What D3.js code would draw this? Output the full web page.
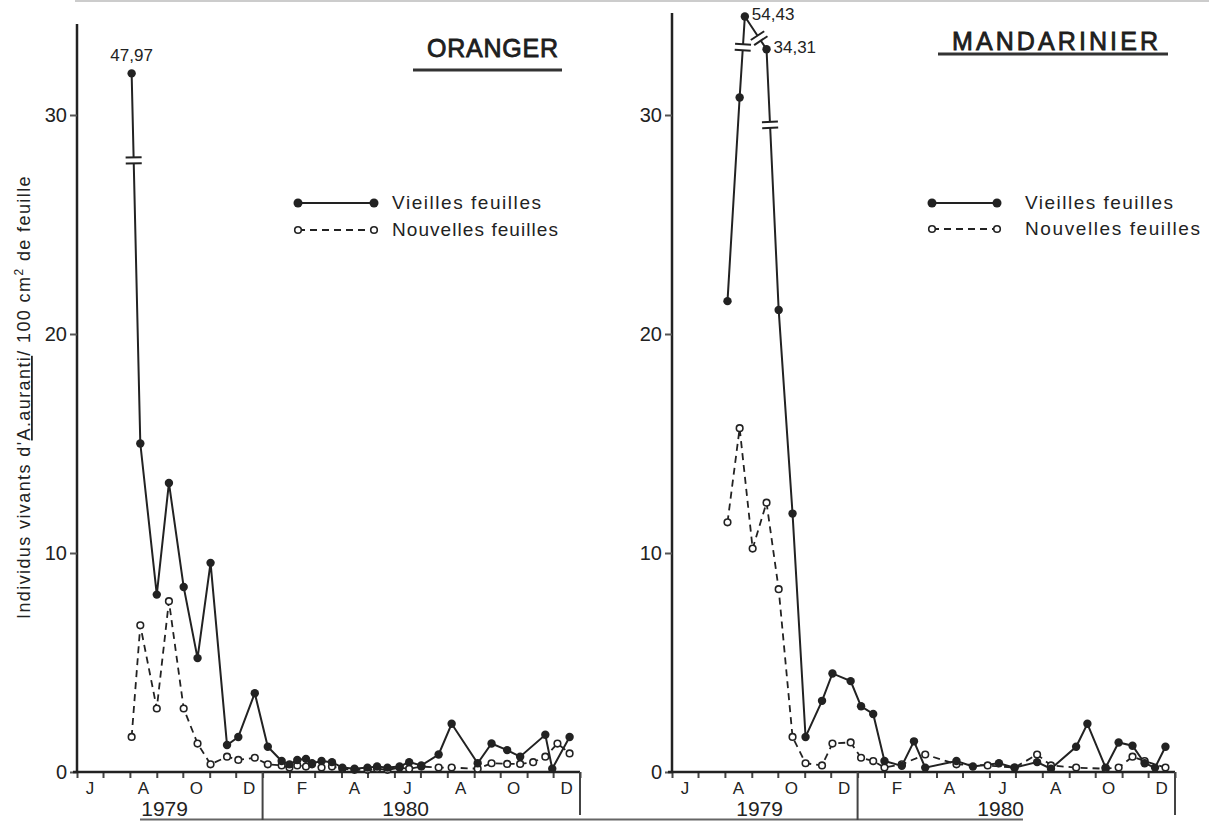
<!DOCTYPE html>
<html>
<head>
<meta charset="utf-8">
<script src="https://cdn.jsdelivr.net/npm/d3@7"></script>
<style>
  body { margin: 0; background: #fff; }
  svg { display: block; }
  text { font-family: "Liberation Sans", Arial, sans-serif; fill: #222; }
</style>
</head>
<body>
<svg id="chart" width="1209" height="821"></svg>
<script>
// month initials (French) and which months get a label
const monthInitials = ["J","F","M","A","M","J","J","A","S","O","N","D"];
const labelMonths = ["1979-06","1979-08","1979-10","1979-12","1980-02","1980-04","1980-06","1980-08","1980-10","1980-12"];
const yTicks = [0, 10, 20, 30];
const years = ["1979", "1980"];
const yearLabelAt = ["1979-09-10", "1980-06-14"];

// ORANGER - sampling dates and counts (null = no sample)
const orDates = ["1979-08-03","1979-08-13","1979-09-01","1979-09-15","1979-10-02","1979-10-18","1979-11-02","1979-11-21","1979-12-04","1979-12-23",
  "1980-01-07","1980-01-23","1980-02-01","1980-02-10","1980-02-20","1980-02-27","1980-03-09","1980-03-21","1980-04-02","1980-04-16",
  "1980-05-01","1980-05-12","1980-05-24","1980-06-07","1980-06-18","1980-07-02","1980-07-22","1980-08-06","1980-08-21","1980-09-05",
  "1980-09-21","1980-10-09","1980-10-24","1980-11-08","1980-11-22","1980-11-30","1980-12-06","1980-12-20"];
const orVieilles = [47.97,15.0,8.1,13.2,8.45,5.2,9.55,1.23,1.6,3.6,
  1.15,0.5,0.35,0.55,0.6,0.4,0.5,0.45,0.2,0.15,
  0.2,0.25,0.2,0.25,0.45,0.3,0.8,2.2,null,0.4,
  1.3,1.0,0.7,null,1.7,0.15,null,1.6];
const orNouvelles = [1.6,6.7,2.9,7.8,2.9,1.3,0.35,0.7,0.55,0.65,
  0.35,0.3,0.2,0.3,0.25,0.35,0.2,0.25,0.15,0.1,
  0.1,0.15,0.1,0.2,0.15,0.25,0.2,0.2,null,0.15,
  0.4,0.37,0.37,0.45,0.7,null,1.3,0.85];

// MANDARINIER
const maDates = ["1979-08-04","1979-08-18","1979-08-24","1979-09-02","1979-09-18","1979-10-02","1979-10-18","1979-11-02","1979-11-21","1979-12-03","1979-12-24",
  "1980-01-05","1980-01-19","1980-02-01","1980-02-21","1980-03-06","1980-03-19","1980-04-24","1980-05-13","1980-05-30","1980-06-12",
  "1980-06-30","1980-07-26","1980-08-11","1980-09-09","1980-09-22","1980-10-13","1980-10-28","1980-11-13","1980-11-27","1980-12-09","1980-12-21"];
const maVieilles = [21.5,30.8,54.43,null,34.31,21.1,11.8,1.6,3.25,4.5,4.15,
  3.0,2.65,0.5,0.28,1.4,0.2,0.5,0.25,null,0.4,
  0.2,0.45,0.15,1.15,2.2,0.2,1.35,1.2,0.4,0.2,1.15];
const maNouvelles = [11.4,15.7,null,10.2,12.3,8.35,1.6,0.4,0.3,1.3,1.35,
  0.65,0.5,0.2,0.35,null,0.8,0.35,null,0.3,null,
  0.2,0.8,0.3,0.2,null,0.15,0.2,0.7,0.5,null,0.2];

// Vieilles feuilles values beyond the scale, drawn above a broken axis
const orBroken = [{i: 0, label: "47,97", drawAt: 31.9, side: "top"}];
const maBroken = [{i: 2, label: "54,43", drawAt: 34.5, side: "right"},
                  {i: 4, label: "34,31", drawAt: 33.0, side: "right"}];
const orBreaks = [{from: 0, to: 1, t: 0.235}];
const maBreaks = [{from: 1, to: 2, t: 0.62}, {from: 2, to: 4, t: 0.66}, {from: 4, to: 5, t: 0.29}];

const svg = d3.select("#chart");
const parse = d3.timeParse("%Y-%m-%d");
const parseMonth = d3.timeParse("%Y-%m");
const ink = "#222";

const y = d3.scaleLinear().domain([0, 30]).range([772, 115]);
const start = parse("1979-06-01"), end = parse("1981-01-01");

// scan border lines
svg.append("line").attr("x1", 75).attr("x2", 1209).attr("y1", 1).attr("y2", 1)
  .attr("stroke", "#ccc").attr("stroke-width", 2);
svg.append("line").attr("x1", 140).attr("x2", 1023).attr("y1", 819.5).attr("y2", 819.5)
  .attr("stroke", "#666").attr("stroke-width", 2);

const panels = [
  {title: "ORANGER", x0: 77, x1: 580, yTop: 24, dates: orDates, vieilles: orVieilles, nouvelles: orNouvelles,
   broken: orBroken, breaks: orBreaks,
   titleBox: {x: 427, w: 131, base: 57, ux1: 413, ux2: 562, uy: 70},
   legend: {x1: 298, x2: 374, tx: 392, y1: 203, y2: 230, w1: 149, w2: 166}},
  {title: "MANDARINIER", x0: 672, x1: 1175, yTop: 13, dates: maDates, vieilles: maVieilles, nouvelles: maNouvelles,
   broken: maBroken, breaks: maBreaks,
   titleBox: {x: 952, w: 206, base: 50, ux1: 938, ux2: 1168, uy: 54},
   legend: {x1: 932, x2: 997, tx: 1025, y1: 203, y2: 229, w1: 148, w2: 175}}
];

panels.forEach(p => {
  const x = d3.scaleTime().domain([start, end]).range([p.x0, p.x1]);
  const g = svg.append("g");

  // y axis
  g.append("line").attr("x1", p.x0).attr("x2", p.x0).attr("y1", y(0) + 1).attr("y2", p.yTop)
    .attr("stroke", ink).attr("stroke-width", 2.5);
  const ya = g.append("g").attr("transform", `translate(${p.x0},0)`)
    .call(d3.axisLeft(y).tickValues(yTicks).tickSize(7).tickPadding(3));
  ya.select(".domain").remove();
  ya.selectAll(".tick line").attr("stroke", "#555").attr("stroke-width", 2);
  ya.selectAll(".tick text").attr("font-family", null).style("font-size", "20px").attr("fill", ink);

  // x axis with month ticks
  const xa = g.append("g").attr("transform", `translate(0,${y(0)})`)
    .call(d3.axisBottom(x).ticks(d3.timeMonth.every(1)).tickSize(6).tickFormat(""));
  xa.select(".domain").remove();
  xa.selectAll(".tick line").attr("stroke", "#444").attr("stroke-width", 2);
  g.append("line").attr("x1", p.x0 - 4).attr("x2", p.x1).attr("y1", y(0)).attr("y2", y(0))
    .attr("stroke", ink).attr("stroke-width", 2.5);

  // month labels, centred in their month
  labelMonths.forEach(m => {
    const d0 = parseMonth(m), d1 = d3.timeMonth.offset(d0, 1);
    g.append("text").attr("x", (x(d0) + x(d1)) / 2).attr("y", 794)
      .attr("text-anchor", "middle").style("font-size", "17px")
      .text(monthInitials[d0.getMonth()]);
  });
  years.forEach((yr, i) => {
    g.append("text").attr("x", x(parse(yearLabelAt[i]))).attr("y", 816)
      .attr("text-anchor", "middle").style("font-size", "21px").text(yr);
  });
  // year box
  g.append("line").attr("x1", x(parse("1980-01-01"))).attr("x2", x(parse("1980-01-01")))
    .attr("y1", y(0)).attr("y2", 820).attr("stroke", "#444").attr("stroke-width", 2);
  g.append("line").attr("x1", p.x1).attr("x2", p.x1)
    .attr("y1", y(0)).attr("y2", 815).attr("stroke", "#444").attr("stroke-width", 2);

  // title
  const tb = p.titleBox;
  g.append("text").attr("x", tb.x).attr("y", tb.base)
    .attr("textLength", tb.w).attr("lengthAdjust", "spacing")
    .style("font-size", "25px").attr("fill", "#1a1a1a")
    .attr("stroke", "#1a1a1a").attr("stroke-width", 0.8)
    .text(p.title);
  g.append("line").attr("x1", tb.ux1).attr("x2", tb.ux2).attr("y1", tb.uy).attr("y2", tb.uy)
    .attr("stroke", "#333").attr("stroke-width", 3);

  // legend
  const lg = p.legend;
  g.append("line").attr("x1", lg.x1).attr("x2", lg.x2).attr("y1", lg.y1).attr("y2", lg.y1)
    .attr("stroke", ink).attr("stroke-width", 2);
  g.append("line").attr("x1", lg.x1).attr("x2", lg.x2).attr("y1", lg.y2).attr("y2", lg.y2)
    .attr("stroke", ink).attr("stroke-width", 1.8).attr("stroke-dasharray", "7,5");
  [lg.x1, lg.x2].forEach(cx => {
    g.append("circle").attr("cx", cx).attr("cy", lg.y1).attr("r", 4.5).attr("fill", ink);
    g.append("circle").attr("cx", cx).attr("cy", lg.y2).attr("r", 3.3)
      .attr("fill", "#fff").attr("stroke", ink).attr("stroke-width", 1.6);
  });
  g.append("text").attr("x", lg.tx).attr("y", lg.y1 + 6).style("font-size", "19px")
    .attr("textLength", lg.w1).attr("lengthAdjust", "spacing").text("Vieilles feuilles");
  g.append("text").attr("x", lg.tx).attr("y", lg.y2 + 6).style("font-size", "19px")
    .attr("textLength", lg.w2).attr("lengthAdjust", "spacing").text("Nouvelles feuilles");

  // series
  const brokenAt = new Map(p.broken.map(b => [b.i, b]));
  const toPoints = (vals, withBreaks) => p.dates.map((d, i) => ({
    i, date: parse(d), v: vals[i],
    shown: withBreaks && brokenAt.has(i) ? brokenAt.get(i).drawAt : vals[i]
  })).filter(d => d.v !== null);
  const vie = toPoints(p.vieilles, true), nou = toPoints(p.nouvelles, false);
  const line = d3.line().x(d => x(d.date)).y(d => y(d.shown));

  g.append("path").datum(nou).attr("d", line).attr("fill", "none")
    .attr("stroke", ink).attr("stroke-width", 1.8).attr("stroke-dasharray", "7,5");
  g.append("path").datum(vie).attr("d", line).attr("fill", "none")
    .attr("stroke", ink).attr("stroke-width", 2);

  // axis-break marks on segments that reach off-scale points
  p.breaks.forEach(b => {
    const a = vie.find(d => d.i === b.from), c = vie.find(d => d.i === b.to);
    const ax = x(a.date), ay = y(a.shown), cx = x(c.date), cy = y(c.shown);
    const len = Math.hypot(cx - ax, cy - ay);
    const ux = (cx - ax) / len, uy = (cy - ay) / len, nx = -uy, ny = ux;
    const px = ax + (cx - ax) * b.t, py = ay + (cy - ay) * b.t;
    g.append("line").attr("x1", px - ux * 3).attr("y1", py - uy * 3)
      .attr("x2", px + ux * 3).attr("y2", py + uy * 3)
      .attr("stroke", "#fff").attr("stroke-width", 5);
    [-3, 3].forEach(s => {
      g.append("line")
        .attr("x1", px + ux * s - nx * 8).attr("y1", py + uy * s - ny * 8)
        .attr("x2", px + ux * s + nx * 8).attr("y2", py + uy * s + ny * 8)
        .attr("stroke", ink).attr("stroke-width", 2);
    });
  });

  g.selectAll(null).data(nou).join("circle")
    .attr("cx", d => x(d.date)).attr("cy", d => y(d.shown)).attr("r", 3.3)
    .attr("fill", "#fff").attr("stroke", ink).attr("stroke-width", 1.6);
  g.selectAll(null).data(vie).join("circle")
    .attr("cx", d => x(d.date)).attr("cy", d => y(d.shown)).attr("r", 4.2)
    .attr("fill", ink);

  // labels of the off-scale values
  p.broken.forEach(b => {
    const d = vie.find(v => v.i === b.i);
    const t = g.append("text").style("font-size", "17px").text(b.label);
    if (b.side === "top") {
      t.attr("x", x(d.date)).attr("y", y(d.shown) - 12).attr("text-anchor", "middle");
    } else {
      t.attr("x", x(d.date) + 7).attr("y", y(d.shown) + 4);
    }
  });
});

// y axis title
const yt = svg.append("text").attr("transform", "translate(30,397) rotate(-90)")
  .attr("text-anchor", "middle").style("font-size", "18px").style("letter-spacing", "1.4px")
  .attr("fill", "#333");
yt.append("tspan").text("Individus vivants d'");
yt.append("tspan").style("text-decoration", "underline").text("A.auranti");
yt.append("tspan").text("/ 100 cm");
yt.append("tspan").attr("baseline-shift", "super").style("font-size", "12px").text("2");
yt.append("tspan").text(" de feuille");
</script>
</body>
</html>
